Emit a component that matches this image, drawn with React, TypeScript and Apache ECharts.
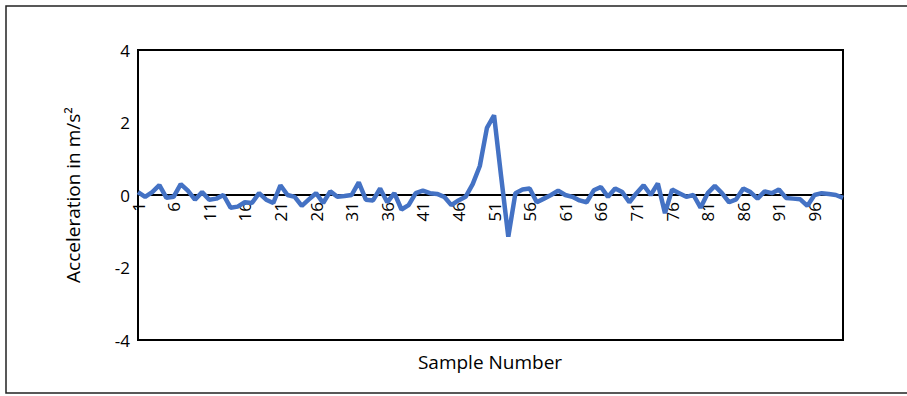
import React, { useEffect, useRef } from "react";
import * as echarts from "echarts";

const sampleNumbers: string[] = Array.from({ length: 100 }, (_, i) => String(i + 1));

const acceleration: number[] = [
  0.08, -0.05, 0.08, 0.27, -0.08, -0.05, 0.3, 0.12, -0.13, 0.08,
  -0.13, -0.1, 0.0, -0.35, -0.32, -0.2, -0.22, 0.05, -0.13, -0.22,
  0.27, 0.0, -0.05, -0.3, -0.12, 0.05, -0.22, 0.1, -0.05, -0.03,
  0.0, 0.35, -0.13, -0.15, 0.18, -0.2, 0.05, -0.4, -0.28, 0.05,
  0.12, 0.05, 0.03, -0.05, -0.28, -0.15, -0.05, 0.3, 0.8, 1.85,
  2.2, 0.5, -1.15, 0.05, 0.15, 0.18, -0.2, -0.1, 0.0, 0.12,
  0.0, -0.05, -0.15, -0.2, 0.13, 0.22, -0.05, 0.18, 0.08, -0.2,
  0.05, 0.27, 0.0, 0.32, -0.5, 0.15, 0.05, -0.05, 0.0, -0.35,
  0.05, 0.25, 0.05, -0.2, -0.12, 0.18, 0.08, -0.1, 0.1, 0.05,
  0.15, -0.08, -0.1, -0.12, -0.3, 0.0, 0.05, 0.03, 0.0, -0.08,
];

const yTitle = "Acceleration in m/s²";
const xTitle = "Sample Number";

const FONT = "'Open Sans', 'Noto Sans', sans-serif";

export default function App() {
  const ref = useRef<HTMLDivElement>(null);

  useEffect(() => {
    if (!ref.current) return;
    const chart = echarts.init(ref.current, null, { renderer: "svg" });
    chart.setOption({
      animation: false,
      backgroundColor: "#ffffff",
      grid: {
        left: 138,
        top: 50,
        width: 705,
        height: 290,
        show: true,
        borderColor: "#000000",
        borderWidth: 2,
        backgroundColor: "transparent",
      },
      xAxis: {
        type: "category",
        data: sampleNumbers,
        boundaryGap: false,
        position: "bottom",
        offset: -145,
        axisLine: { onZero: false, lineStyle: { color: "#000000", width: 2 } },
        axisTick: { show: false },
        axisLabel: {
          interval: 4,
          rotate: 90,
          margin: 7,
          color: "#000000",
          fontSize: 17,
          fontFamily: FONT,
        },
        splitLine: { show: false },
      },
      yAxis: {
        type: "value",
        min: -4,
        max: 4,
        interval: 2,
        name: yTitle,
        nameLocation: "middle",
        nameGap: 56,
        nameTextStyle: { color: "#000000", fontSize: 19, fontFamily: FONT },
        axisLine: { show: true, lineStyle: { color: "#000000", width: 2 } },
        axisTick: { show: false },
        axisLabel: { color: "#000000", fontSize: 17, fontFamily: FONT, margin: 8 },
        splitLine: { show: false },
      },
      series: [
        {
          type: "line",
          data: acceleration,
          showSymbol: false,
          symbol: "none",
          lineStyle: { color: "#4472C4", width: 4.5 },
          z: 1,
        },
      ],
      graphic: [
        {
          type: "rect",
          shape: { x: 6, y: 6, width: 920, height: 387 },
          style: { fill: "none", stroke: "#222222", lineWidth: 1.5 },
          silent: true,
        },
        {
          type: "text",
          x: 490,
          y: 362,
          style: {
            text: xTitle,
            fill: "#000000",
            fontSize: 19,
            fontFamily: FONT,
            textAlign: "center",
            textVerticalAlign: "middle",
          },
        },
      ],
    });
    return () => chart.dispose();
  }, []);

  return (
    <div
      ref={ref}
      style={{ position: "fixed", left: 0, top: 0, width: 907, height: 396, background: "#fff" }}
    />
  );
}
